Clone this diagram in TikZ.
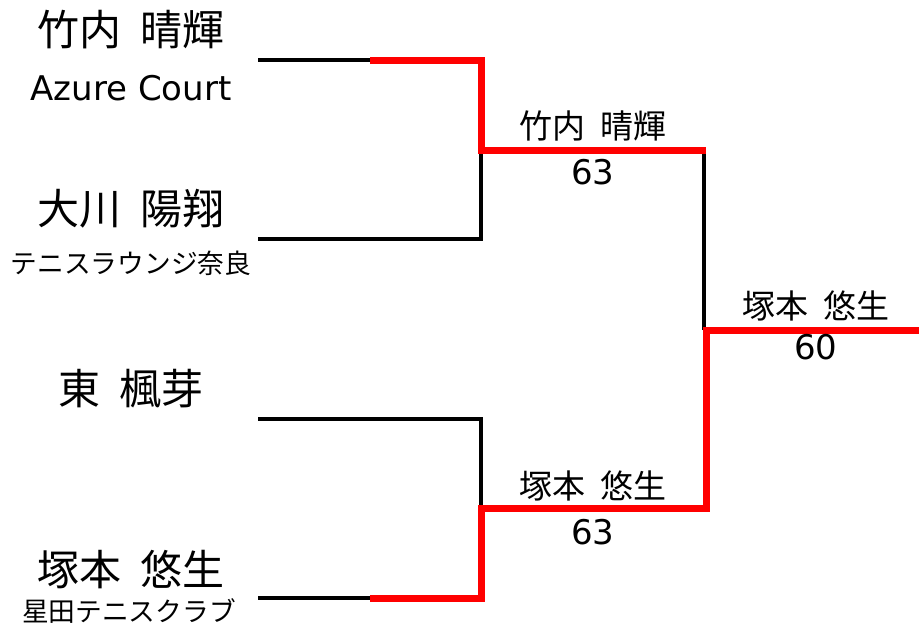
\documentclass[tikz,border=0pt]{standalone}
\usepackage{fontspec}
\setmainfont{Noto Sans CJK JP}
\newfontfamily\latinfont{DejaVu Sans}
\newcommand{\gp}{\hspace{0.45em}}
\begin{document}
\begin{tikzpicture}[x=1pt,y=-1pt,
  player/.style={inner sep=0pt, font=\fontsize{42}{46}\selectfont},
  club/.style={inner sep=0pt, font=\fontsize{26.7}{30}\selectfont},
  clubl/.style={inner sep=0pt, font=\latinfont\fontsize{34}{38}\selectfont},
  winner/.style={inner sep=0pt, font=\fontsize{33}{36}\selectfont},
  score/.style={inner sep=0pt, font=\latinfont\fontsize{34}{38}\selectfont},
  loseline/.style={draw=black, line width=4pt},
  winline/.style={draw=red, line width=7pt, line join=miter}]
\useasboundingbox (0,0) rectangle (919,643);
\fill[white] (0,0) rectangle (919,643);
% players
\node[player] (p1) at (131,30) {竹内\gp 晴輝};
\node[clubl] (c1) at (131,88) {Azure Court};
\node[player] (p2) at (131,209) {大川\gp 陽翔};
\node[club] (c2) at (131,263) {テニスラウンジ奈良};
\node[player] (p3) at (131,389) {東\gp 楓芽};
\node[player] (p4) at (131,570) {塚本\gp 悠生};
\node[club] (c4) at (129,611) {星田テニスクラブ};
% slots
\coordinate (s1) at (258,60);
\coordinate (s2) at (258,239);
\coordinate (s3) at (258,419);
\coordinate (s4) at (258,598);
\coordinate (h1) at (370,60);
\coordinate (h4) at (370,598);
\coordinate (j1) at (481,150);
\coordinate (j2) at (481,508);
\coordinate (m1) at (706,150);
\coordinate (m2) at (706,508);
\coordinate (f) at (706,330);
\coordinate (fe) at (919,330);
% black lines
\draw[loseline] (s1) -- (h1);
\draw[loseline] (s2) -| (j1);
\draw[loseline] (s3) -| (j2);
\draw[loseline] (s4) -- (h4);
\draw[loseline] ([xshift=-2pt]m1) -- ([xshift=-2pt]f);
% red lines
\draw[winline] (h1) -| (j1) -- (m1);
\draw[winline] (h4) -| (j2) -- (m2) -- (f) -- (fe);
% winners
\node[winner] (w1) at (593,126) {竹内\gp 晴輝};
\node[score] (sc1) at (593,172) {63};
\node[winner] (w2) at (593,486) {塚本\gp 悠生};
\node[score] (sc2) at (593,532) {63};
\node[winner] (w3) at (816,306) {塚本\gp 悠生};
\node[score] (sc3) at (816,347) {60};
\end{tikzpicture}
\end{document}
